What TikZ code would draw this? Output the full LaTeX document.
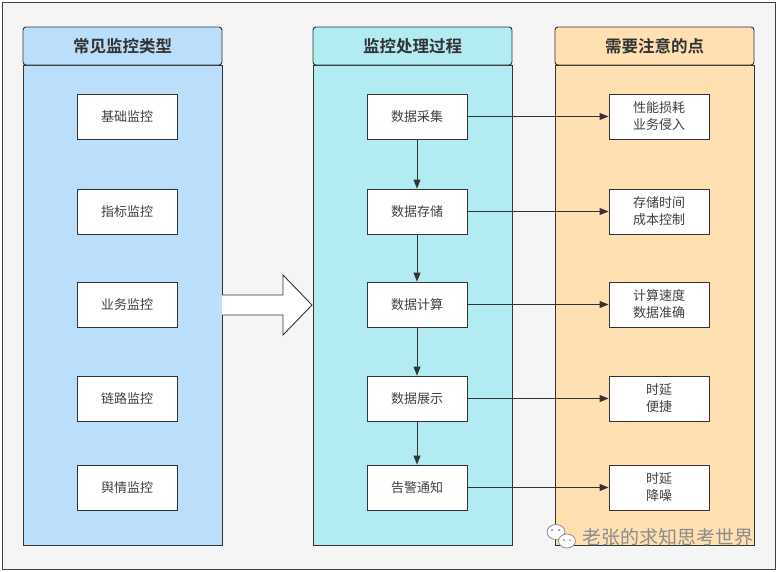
\documentclass[tikz,border=0pt]{standalone}
\usepackage{fontspec}
\usepackage{tikz}
\usetikzlibrary{arrows.meta}
\newfontfamily\cjk[BoldFont={Noto Sans CJK SC Bold}]{Noto Sans CJK SC}
\definecolor{TypeBlue}{RGB}{187,222,251}
\definecolor{FlowCyan}{RGB}{178,235,242}
\definecolor{NoteOrange}{RGB}{255,224,178}
\definecolor{PageGray}{RGB}{245,245,245}
\definecolor{InkDark}{RGB}{51,51,51}
\tikzset{
	lanebody/.style={draw=InkDark,line width=0.9pt,minimum width=199pt,minimum height=480pt,inner sep=0pt},
	lanehead/.style={draw=InkDark,line width=0.9pt,rounded corners=3pt,minimum width=199pt,minimum height=38pt,
		inner sep=0pt,text=InkDark,font=\cjk\bfseries\fontsize{16.5}{18}\selectfont},
	item/.style={draw=InkDark,fill=white,line width=0.9pt,minimum width=100pt,minimum height=45pt,inner sep=0pt,
		align=center,text=black!75,font=\cjk\fontsize{13}{17}\selectfont},
	flow/.style={draw=InkDark,line width=0.9pt,-{Triangle[length=9pt,width=7pt]}},
}
\begin{document}
\begin{tikzpicture}[x=1pt,y=-1pt]
	\useasboundingbox (0,0) rectangle (777,571);
	\draw[draw=black!75,fill=PageGray,line width=0.8pt] (2,2) rectangle (775,569);
	% the three lanes
	\foreach \c/\x/\col/\t in {types/122.5/TypeBlue/常见监控类型,steps/412.5/FlowCyan/监控处理过程,notes/654.5/NoteOrange/需要注意的点}{
		\node[lanebody,fill=\col] (\c) at (\x,305) {};
		\node[lanehead,fill=\col] (\c-head) at (\x,46) {\t};
	}
	% rows
	\foreach \i/\y/\a/\b/\n in {1/116.5/基础监控/数据采集/{性能损耗\\业务侵入},
		2/211.5/指标监控/数据存储/{存储时间\\成本控制},
		3/304.5/业务监控/数据计算/{计算速度\\数据准确},
		4/398.5/链路监控/数据展示/{时延\\便捷},
		5/487.5/舆情监控/告警通知/{时延\\降噪}}{
		\node[item] (type\i) at (127,\y) {\a};
		\node[item] (step\i) at (417,\y) {\b};
		\node[item] (note\i) at (659,\y) {\n};
		\draw[flow] (step\i) -- (note\i);
	}
	\foreach \i/\j in {1/2,2/3,3/4,4/5}
	\draw[flow] (step\i) -- (step\j);
	% big hollow arrow
	\draw[draw=InkDark,fill=white,line width=0.9pt] (222,295) -- (283,295) -- (283,275) -- (312,305)
		-- (283,335) -- (283,315) -- (222,315);
	% watermark
	\begin{scope}[draw=black!45,fill=white,line width=0.8pt]
		\draw[fill=white] (556,532) ellipse (9pt and 7.5pt);
		\draw[fill=white] (567,541) ellipse (8.5pt and 7pt);
		\fill[black!45] (552,530) circle (1.1pt) (559,530) circle (1.1pt)
			(564,540) circle (1pt) (570,540) circle (1pt);
	\end{scope}
	\node[text=black!45,font=\cjk\fontsize{19}{19}\selectfont] (mark) at (667.5,537) {老张的求知思考世界};
\end{tikzpicture}
\end{document}
